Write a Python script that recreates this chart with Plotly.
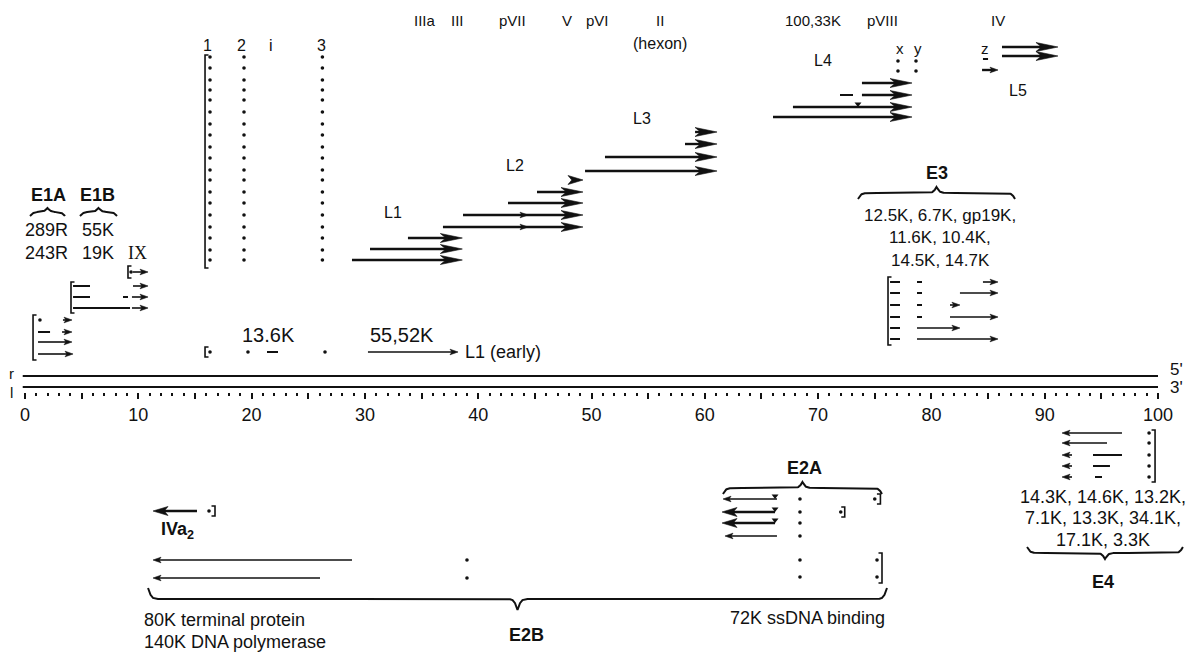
import numpy as np
import plotly.graph_objects as go

# ---------------- DATA ----------------
# x values are adenovirus map units (0-100); y values are diagram rows (top -> bottom)
TICK_TENS = list(range(0, 101, 10))
TICK_TEXT = [str(v) for v in TICK_TENS]
TICK_FIVES = list(range(5, 100, 10))
TICK_MINOR = list(range(0, 101))

GENOME_SPAN = [-0.2, 100.0]
STRAND_ROWS = [376, 387]

# tripartite leader exons (columns) and their rows
LEADER_COLS = [16.33, 19.33, 26.25]
LEADER_ROWS = [57, 68, 80, 90, 100, 112, 124, 135, 147, 158, 170, 180, 192,
               203, 215, 227, 238, 250, 260]

# late transcripts L1-L5: (start, end, row, head)
LATE_ARROWS = [
    (33.80, 38.60, 238, "big"), (30.45, 38.60, 249, "big"), (28.86, 38.60, 260, "big"),
    (48.30, 49.25, 180, "mid"), (45.19, 49.25, 192, "big"), (42.63, 49.25, 203, "big"),
    (38.66, 49.25, 215, "big"), (36.89, 49.25, 227, "big"),
    (59.14, 61.08, 132, "big"), (58.25, 61.08, 144, "big"), (51.19, 61.08, 157, "big"),
    (49.43, 61.08, 171, "big"),
    (73.87, 78.29, 83, "big"), (73.87, 78.29, 95, "big"), (67.78, 78.29, 107, "big"),
    (66.02, 78.29, 117, "big"),
    (86.23, 91.17, 47, "big"), (86.23, 91.17, 56, "big"), (84.47, 85.88, 70, "small"),
]
LATE_MID_HEADS = [(43.6, 44.4, 215, "small"), (43.6, 44.4, 227, "small")]

# early transcripts: (start, end, row, head)
EARLY_ARROWS = [
    # E1A
    (3.35, 4.15, 320, "small"), (3.27, 4.15, 332, "small"),
    (1.15, 4.15, 342, "small"), (1.15, 4.24, 354, "small"),
    # E1B and IX
    (9.53, 10.86, 286, "small"), (9.44, 10.86, 297, "small"), (9.44, 10.86, 308, "small"),
    (9.53, 10.86, 272, "small"),
    # E3
    (84.55, 85.88, 282, "small"), (82.52, 85.88, 293, "small"), (81.64, 82.52, 305, "small"),
    (81.64, 85.88, 317, "small"), (78.73, 82.52, 328, "small"), (78.73, 85.88, 339, "small"),
    # E4 (leftward)
    (96.82, 91.53, 433, "small"), (95.50, 91.53, 443, "small"), (92.41, 91.53, 455, "small"),
    (92.41, 91.53, 466, "small"), (92.41, 91.53, 477, "small"),
    # E2B (leftward)
    (28.86, 11.30, 560, "small"), (26.04, 11.30, 578, "small"),
    # E2A thin
    (66.37, 61.61, 499, "small"), (66.37, 61.78, 536, "small"),
    # L1 early
    (30.27, 38.22, 352, "small"),
]
BOLD_LEFT_ARROWS = [
    (66.20, 61.52, 512, "mid"), (66.20, 61.52, 523, "mid"),   # E2A
    (15.18, 11.30, 511, "mid"),                               # IVa2
]

# exon pieces without arrowheads: (start, end, row)
EXON_DASHES = [
    (1.15, 2.21, 332),
    (4.24, 5.74, 286), (4.24, 5.74, 297), (8.65, 9.09, 297), (4.24, 9.27, 308),
    (76.35, 77.23, 282), (78.73, 79.17, 282), (76.35, 77.23, 293), (78.73, 79.17, 293),
    (76.35, 77.23, 305), (78.73, 79.17, 305), (76.35, 77.23, 317), (78.73, 79.17, 317),
    (76.35, 77.23, 328), (76.35, 77.23, 339),
    (94.26, 96.82, 455), (94.26, 95.76, 466), (94.44, 95.06, 477),
    (21.36, 22.33, 352),
    (71.93, 73.08, 95),
    (84.55, 85.00, 59),
]

DOT_X = [1.32, 9.36, 16.33, 19.68, 26.48, 77.05, 77.05, 78.64, 78.64,
         99.21, 99.21, 99.21, 99.21, 99.21,
         68.40, 68.40, 68.40, 68.40, 68.40, 68.40, 72.00, 75.00, 75.20, 75.20,
         39.01, 39.01, 16.24]
DOT_Y = [320, 272, 352, 352, 352, 61, 71, 61, 71,
         433, 443, 455, 466, 477,
         499, 512, 523, 536, 560, 577, 512, 499, 560, 577,
         560, 578, 511]

SPLICE_MARK_X = [66.20, 66.20, 66.20, 73.52]
SPLICE_MARK_Y = [496, 509, 520, 104]

# brackets: (x, top, bottom, side)
BRACKETS = [
    (0.71, 315, 360, "L"), (4.06, 282, 313, "L"), (9.09, 266, 278, "L"),
    (15.89, 55, 268, "L"), (15.89, 347, 357, "L"), (76.17, 277, 345, "L"),
    (99.74, 430, 482, "R"), (72.35, 507, 517, "R"), (75.50, 494, 504, "R"),
    (75.64, 553, 583, "R"), (16.77, 506, 516, "R"),
]

# curly braces: (x0, x1, row, amplitude, tip_up)
BRACES = [
    (0.44, 3.53, 212, 4, True), (4.85, 8.12, 212, 4, True),
    (73.52, 87.38, 193, 6, True), (61.60, 75.64, 488, 6, True),
    (88.44, 102.2, 553, 6, False), (10.86, 76.08, 599, 11, False),
]

# text labels: (text, x, row, size, bold, anchor)
LABELS = [
    ("IIIa", 35.30, 20, 15, False, "center"), ("III", 38.13, 20, 15, False, "center"),
    ("pVII", 43.07, 20, 15, False, "center"), ("V", 47.84, 20, 15, False, "center"),
    ("pVI", 50.49, 20, 15, False, "center"), ("II", 56.05, 20, 15, False, "center"),
    ("(hexon)", 56.05, 43, 16, False, "center"), ("100,33K", 69.55, 20, 15, False, "center"),
    ("pVIII", 75.64, 20, 15, False, "center"), ("IV", 85.88, 20, 15, False, "center"),
    ("x", 77.23, 48, 15, False, "center"), ("y", 78.82, 48, 15, False, "center"),
    ("z", 84.73, 48, 15, False, "center"),
    ("1", 16.15, 45, 16, False, "center"), ("2", 19.15, 45, 16, False, "center"),
    ("i", 21.71, 45, 16, False, "center"), ("3", 26.21, 45, 16, False, "center"),
    ("L1", 32.48, 212, 16, False, "center"), ("L2", 43.25, 165, 16, False, "center"),
    ("L3", 54.46, 118, 16, False, "center"), ("L4", 70.43, 60, 16, False, "center"),
    ("L5", 87.64, 90, 16, False, "center"),
    ("E1A", 2.03, 195, 18, True, "center"), ("E1B", 6.44, 195, 18, True, "center"),
    ("289R", 1.94, 230, 18, False, "center"), ("55K", 6.44, 230, 18, False, "center"),
    ("243R", 1.94, 253, 18, False, "center"), ("19K", 6.44, 253, 18, False, "center"),
    ("E3", 80.50, 173, 18, True, "center"),
    ("12.5K, 6.7K, gp19K,", 80.76, 215, 17, False, "center"),
    ("11.6K, 10.4K,", 80.76, 237, 17, False, "center"),
    ("14.5K, 14.7K", 80.76, 260, 17, False, "center"),
    ("13.6K", 21.45, 335, 20, False, "center"), ("55,52K", 33.27, 335, 20, False, "center"),
    ("L1 (early)", 38.66, 352, 18, False, "left"),
    ("r", -1.15, 373, 15, False, "center"), ("l", -1.15, 392, 15, False, "center"),
    ("5'", 100.85, 369, 17, False, "left"), ("3'", 100.85, 387, 17, False, "left"),
    ("14.3K, 14.6K, 13.2K,", 95.15, 497, 18, False, "center"),
    ("7.1K, 13.3K, 34.1K,", 95.15, 518, 18, False, "center"),
    ("17.1K, 3.3K", 95.15, 540, 18, False, "center"),
    ("E4", 95.15, 582, 18, True, "center"),
    ("E2A", 68.84, 468, 18, True, "center"),
    ("72K ssDNA binding", 69.02, 618, 18, False, "center"),
    ("IVa<sub>2</sub>", 13.50, 530, 18, True, "center"),
    ("80K terminal protein", 10.33, 620, 18, False, "left"),
    ("140K DNA polymerase", 10.33, 642, 18, False, "left"),
    ("E2B", 44.30, 635, 18, True, "center"),
]
SERIF_LABELS = [("IX", 9.97, 253, 18)]

# ---------------- LAYOUT CONSTANTS ----------------
W, H = 1199, 653
X0_PX, PX_PER_UNIT = 25.0, 11.33
HEAD = {"big": (22, 4.5), "mid": (15, 4.5), "small": (8, 2.8)}
FONT = "Liberation Sans, Arial, Helvetica, sans-serif"
INK = "#111111"


def seg_xy(segs, trim_heads=False):
    xs, ys = [], []
    for s in segs:
        x0, x1, r = s[0], s[1], s[2]
        if trim_heads:
            L = HEAD[s[3]][0] / PX_PER_UNIT * (1 if x1 >= x0 else -1)
            x1 = x1 - 0.5 * L
        xs += [x0, x1, None]
        ys += [r, r, None]
    return xs, ys


def head_xy(segs):
    xs, ys = [], []
    for x0, x1, r, kind in segs:
        L, h = HEAD[kind]
        Lu = (1 if x1 >= x0 else -1) * L / PX_PER_UNIT
        xs += [x1, x1 - Lu, x1 - 0.75 * Lu, x1 - Lu, x1, None]
        ys += [r, r - h, r, r + h, r, None]
    return xs, ys


def brace_xy(x0, x1, y, amp, tip_up):
    w_px = (x1 - x0) * PX_PER_UNIT
    xh = np.linspace(0, w_px / 2, 150)
    beta = 1 / 1.7
    yh = 1 / (1 + np.exp(-beta * (xh - xh[0]))) + 1 / (1 + np.exp(-beta * (xh - xh[-1])))
    xs = np.concatenate([xh, w_px - xh[::-1]])
    ys = np.concatenate([yh, yh[::-1]])
    sign = -1 if tip_up else 1
    ypx = y + sign * (ys - 1) * 2 * amp
    return list(x0 + xs / PX_PER_UNIT) + [None], list(ypx) + [None]


def bracket_xy(x, y0, y1, side):
    t = 3.5 / PX_PER_UNIT * (1 if side == "L" else -1)
    return [x + t, x, x, x + t, None], [y0, y0, y1, y1, None]


fig = go.Figure()

# genome strands (drawn on the secondary map axis, which carries the 5-unit ticks)
gx, gy = [], []
for r in STRAND_ROWS:
    gx += [GENOME_SPAN[0], GENOME_SPAN[1], None]
    gy += [r, r, None]
fig.add_trace(go.Scatter(x=gx, y=gy, mode="lines", xaxis="x2",
                         line=dict(color=INK, width=2.2)))

# leader dots
lx = [c for c in LEADER_COLS for _ in LEADER_ROWS]
ly = [r for _ in LEADER_COLS for r in LEADER_ROWS]
fig.add_trace(go.Scatter(x=lx, y=ly, mode="markers",
                         marker=dict(color=INK, size=3.6, symbol="circle")))

# transcript lines
x, y = seg_xy(LATE_ARROWS, trim_heads=True)
fig.add_trace(go.Scatter(x=x, y=y, mode="lines", line=dict(color=INK, width=2.4)))
x, y = seg_xy(EARLY_ARROWS, trim_heads=True)
fig.add_trace(go.Scatter(x=x, y=y, mode="lines", line=dict(color=INK, width=1.6)))
x, y = seg_xy(BOLD_LEFT_ARROWS, trim_heads=True)
fig.add_trace(go.Scatter(x=x, y=y, mode="lines", line=dict(color=INK, width=2.6)))
x, y = seg_xy(EXON_DASHES)
fig.add_trace(go.Scatter(x=x, y=y, mode="lines", line=dict(color=INK, width=2.0)))

# arrowheads
x, y = head_xy(LATE_ARROWS + LATE_MID_HEADS + EARLY_ARROWS + BOLD_LEFT_ARROWS)
fig.add_trace(go.Scatter(x=x, y=y, mode="lines", fill="toself", fillcolor=INK,
                         line=dict(color=INK, width=0.6)))

# dots and splice marks
fig.add_trace(go.Scatter(x=DOT_X, y=DOT_Y, mode="markers",
                         marker=dict(color=INK, size=3.6)))
fig.add_trace(go.Scatter(x=SPLICE_MARK_X, y=SPLICE_MARK_Y, mode="markers",
                         marker=dict(color=INK, size=6, symbol="triangle-down")))

# brackets
bx, by = [], []
for b in BRACKETS:
    xx, yy = bracket_xy(*b)
    bx += xx
    by += yy
fig.add_trace(go.Scatter(x=bx, y=by, mode="lines", line=dict(color=INK, width=1.6)))

# braces
cx, cy = [], []
for b in BRACES:
    xx, yy = brace_xy(*b)
    cx += xx
    cy += yy
fig.add_trace(go.Scatter(x=cx, y=cy, mode="lines", line=dict(color=INK, width=2.0)))

# labels
for text, xv, yv, size, bold, anchor in LABELS:
    fig.add_annotation(x=xv, y=yv, text=f"<b>{text}</b>" if bold else text,
                       showarrow=False, xanchor=anchor, yanchor="middle",
                       font=dict(family=FONT, size=size, color=INK))
for text, xv, yv, size in SERIF_LABELS:
    fig.add_annotation(x=xv, y=yv, text=text, showarrow=False, xanchor="center",
                       yanchor="middle",
                       font=dict(family="Liberation Serif, Times New Roman, serif",
                                 size=size, color=INK))

axis_row = 392
xrange = [-X0_PX / PX_PER_UNIT, (W - X0_PX) / PX_PER_UNIT]
fig.update_layout(
    width=W, height=H, autosize=False,
    margin=dict(l=0, r=0, t=0, b=0, pad=0, autoexpand=False),
    paper_bgcolor="white", plot_bgcolor="white",
    showlegend=False, hovermode=False,
    xaxis=dict(range=xrange, anchor="free", position=1 - axis_row / H, side="bottom",
               showline=False, showgrid=False, zeroline=False,
               tickmode="array", tickvals=TICK_TENS, ticktext=TICK_TEXT,
               ticks="outside", ticklen=6, tickwidth=1.6, tickcolor=INK,
               tickfont=dict(family=FONT, size=18, color=INK),
               minor=dict(tickmode="array", tickvals=TICK_MINOR, ticks="outside",
                          ticklen=2.5, tickwidth=1.6, tickcolor=INK),
               fixedrange=True),
    xaxis2=dict(range=xrange, overlaying="x", anchor="free",
                position=1 - axis_row / H, side="bottom",
                showline=False, showgrid=False, zeroline=False,
                tickmode="array", tickvals=TICK_FIVES, showticklabels=False,
                ticks="outside", ticklen=6, tickwidth=1.6, tickcolor=INK,
                fixedrange=True),
    yaxis=dict(range=[H, 0], visible=False, fixedrange=True),
)

fig.write_html("out.html", config={"displayModeBar": False},
               post_script="document.body.style.margin='0';document.body.style.overflow='hidden';")
